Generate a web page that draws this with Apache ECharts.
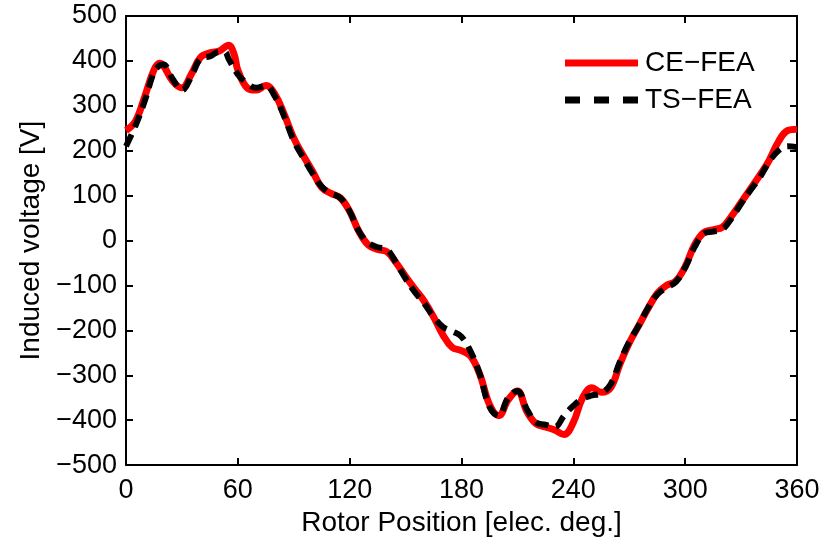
<!DOCTYPE html>
<html><head><meta charset="utf-8">
<script src="https://cdn.jsdelivr.net/npm/echarts@6/dist/echarts.min.js"></script>
<style>html,body{margin:0;padding:0;background:#fff}#c{width:827px;height:542px}</style>
</head><body><div id="c"></div>
<script>
var ceX = [0,5,10,15,18,20,25,30,35,40,45,50,55,58,60,65,70,75,80,85,90,95,100,105,110,115,120,125,130,135,140,145,150,155,160,165,170,175,180,185,190,195,200,205,210,215,220,225,230,235,240,245,250,255,260,265,270,275,280,285,290,295,300,305,310,315,320,325,330,335,340,345,350,355,360];
var ceY = [245,265,320,380,395,390,355,340,370,408,418,422,435,415,380,340,335,345,325,280,228,190,155,118,105,95,65,20,-10,-20,-25,-50,-80,-108,-135,-170,-210,-238,-245,-258,-300,-365,-390,-355,-335,-380,-408,-415,-422,-432,-405,-350,-328,-338,-328,-275,-228,-190,-152,-118,-100,-90,-58,-10,18,24,30,55,85,115,145,178,220,245,248];
var tsX = [0,5,10,15,18,20,25,30,35,40,45,50,53,55,60,65,70,75,80,85,90,95,100,105,110,115,120,125,130,135,140,145,150,155,160,165,170,175,180,185,190,195,200,205,210,215,220,225,230,235,240,245,250,255,260,265,270,275,280,285,290,295,300,305,310,315,320,325,330,335,340,345,350,355,360];
var tsY = [210,255,310,375,390,392,360,335,365,405,410,420,420,405,370,350,340,345,320,275,222,185,150,120,105,95,65,20,-5,-15,-20,-50,-85,-115,-140,-170,-192,-202,-214,-248,-300,-370,-390,-350,-335,-375,-405,-410,-415,-390,-368,-352,-345,-340,-320,-270,-225,-190,-150,-120,-105,-92,-60,-15,15,20,25,50,82,112,140,175,200,210,208];
var xTicks = [0,60,120,180,240,300,360];
var yTicks = [-500,-400,-300,-200,-100,0,100,200,300,400,500];
var seriesNames = ['CE\u2212FEA','TS\u2212FEA'];

function pairs(xs, ys){ return xs.map(function(x,i){return [x, ys[i]];}); }
var font = 'Liberation Sans, Arial, sans-serif';
function fmt(v){ return v < 0 ? '\u2212' + Math.abs(v) : String(v); }
var chart = echarts.init(document.getElementById('c'));
var axisCommon = {
  axisLine:{show:true,onZero:false,lineStyle:{color:'#000',width:2}},
  axisTick:{show:true,inside:true,length:7,lineStyle:{color:'#000',width:2}},
  splitLine:{show:false}
};
chart.setOption({
  animation:false,
  backgroundColor:'#fff',
  grid:{left:126,right:30,top:16,bottom:76,containLabel:false},
  legend:{
    orient:'vertical', left:560, top:44, itemWidth:73, itemHeight:7, itemGap:9,
    textStyle:{fontFamily:font,fontSize:28,color:'#000',lineHeight:28,padding:[0,0,0,2]},
    data:[
      {name:seriesNames[0],icon:'rect'},
      {name:seriesNames[1],icon:'path://M0,0h15v7h-15z M29,0h15v7h-15z M58,0h15v7h-15z'}
    ]
  },
  xAxis:[
    Object.assign({type:'value',min:0,max:360,interval:60,position:'bottom',
      axisLabel:{fontFamily:font,fontSize:27,color:'#000',margin:12,formatter:fmt},
      name:'Rotor Position [elec. deg.]',nameLocation:'middle',nameGap:40,
      nameTextStyle:{fontFamily:font,fontSize:28,color:'#000'}}, axisCommon),
    Object.assign({type:'value',min:0,max:360,interval:60,position:'top',
      axisLabel:{show:false}}, axisCommon)
  ],
  yAxis:[
    Object.assign({type:'value',min:-500,max:500,interval:100,position:'left',
      axisLabel:{fontFamily:font,fontSize:27,color:'#000',margin:9,formatter:fmt},
      name:'Induced voltage [V]',nameLocation:'middle',nameGap:81,nameRotate:90,
      nameTextStyle:{fontFamily:font,fontSize:28,color:'#000'}}, axisCommon),
    Object.assign({type:'value',min:-500,max:500,interval:100,position:'right',
      axisLabel:{show:false}}, axisCommon)
  ],
  series:[
    {name:seriesNames[0],type:'line',smooth:0.4,showSymbol:false,symbol:'none',
     data:pairs(ceX,ceY),lineStyle:{color:'#ff0000',width:7},itemStyle:{color:'#ff0000'},z:2},
    {name:seriesNames[1],type:'line',smooth:0.4,showSymbol:false,symbol:'none',
     data:pairs(tsX,tsY),lineStyle:{color:'#000',width:6,type:[13,8]},itemStyle:{color:'#000'},z:3}
  ]
});
</script></body></html>
